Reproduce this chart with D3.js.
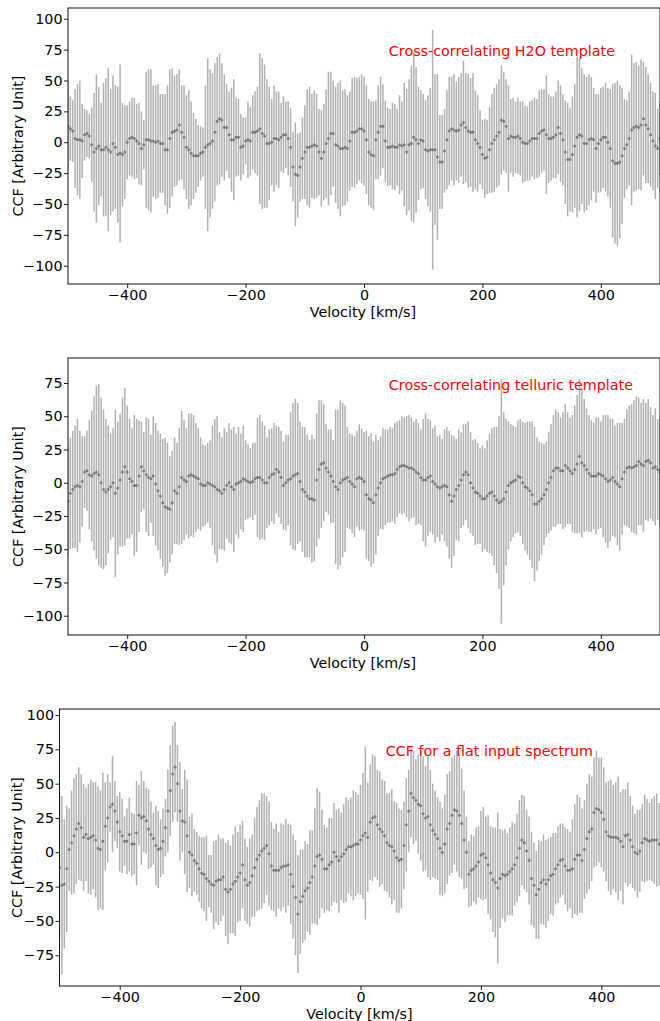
<!DOCTYPE html>
<html>
<head>
<meta charset="utf-8">
<script src="https://cdn.jsdelivr.net/npm/d3@7/dist/d3.min.js"></script>
<style>
  html, body { margin: 0; padding: 0; background: #fff; }
  svg { display: block; }
  text { font-family: "DejaVu Sans", sans-serif; }
</style>
</head>
<body>
<svg id="chart" width="660" height="1021"></svg>
<script>
// ---------------- DATA ----------------
// velocity grid (km/s): -500 .. 500, step 4
const velocityStart = -500, velocityStop = 500, velocityStep = 4;
const velocities = d3.range(velocityStart, velocityStop + 1, velocityStep);

const xTicks = [-400, -200, 0, 200, 400];

// Panel 1: Cross-correlating H2O template
const h2oCCF = [
  13, 11, 9, 3, 2, 2, 1, 6, 7, 5,
  -2, -8, -5, -3, -6, -6, -4, -6, -8, -1,
  -4, -10, -9, -10, -8, 0, 3, 4, 3, 1,
  -1, -5, -2, 2, 2, 1, 1, 0, 1, -1,
  -1, -6, -6, 3, 8, 9, 10, 14, 8, 4,
  -4, -6, -9, -11, -11, -11, -9, -8, -4, -2,
  -1, 1, 8, 17, 19, 18, 12, 12, 6, 2,
  2, 4, 4, -4, -3, 1, 2, 1, 8, 8,
  9, 11, 7, 5, -1, -1, 0, 3, 3, 2,
  4, 6, 6, 3, -4, -20, -26, -27, -20, -13,
  -8, -4, -4, -3, -2, -3, -8, -13, -8, -1,
  3, 7, 7, -2, -3, -5, -5, -4, -5, 1,
  8, 8, 9, 11, 11, 9, 2, -8, -10, -11,
  2, 8, 13, 13, 1, -4, -4, -3, -4, -4,
  -2, -3, -2, -8, -2, -1, 4, 2, -1, 2,
  1, -6, -7, -6, -6, -6, -12, -16, -16, -7,
  2, 9, 11, 10, 9, 10, 14, 16, 12, 9,
  8, 8, 2, -1, -4, -10, -13, -12, -6, -1,
  2, 5, 8, 18, 17, 13, 3, 5, 4, 4,
  5, 3, 0, -1, -1, 1, 3, 3, 3, 7,
  9, 10, 6, 3, 3, 4, 6, 12, 7, 2,
  -8, -14, -14, -10, -3, 4, 6, 5, -1, -1,
  2, 3, 2, -5, -1, 2, 4, 4, 0, -5,
  -15, -17, -17, -16, -11, -5, -2, 3, 10, 12,
  13, 12, 14, 19, 14, 11, 6, 1, -3, -5,
  3
];
const h2oErr = [
  36, 26, 25, 40, 45, 48, 30, 21, 19, 18,
  30, 48, 60, 48, 38, 54, 56, 66, 51, 55,
  50, 55, 72, 42, 38, 30, 30, 32, 33, 30,
  33, 30, 20, 55, 57, 58, 45, 46, 46, 40,
  40, 45, 52, 56, 52, 45, 45, 45, 38, 42,
  42, 48, 42, 35, 30, 25, 22, 20, 50, 70,
  60, 55, 56, 52, 53, 46, 43, 35, 35, 42,
  49, 32, 31, 27, 23, 19, 31, 28, 30, 33,
  36, 61, 61, 58, 52, 46, 35, 43, 38, 39,
  28, 31, 27, 30, 32, 28, 42, 34, 28, 33,
  38, 47, 49, 42, 44, 42, 35, 39, 39, 44,
  54, 50, 43, 47, 51, 55, 47, 47, 43, 40,
  44, 45, 43, 42, 44, 44, 44, 43, 43, 44,
  32, 38, 40, 34, 33, 32, 31, 35, 35, 31,
  40, 36, 50, 51, 53, 63, 69, 59, 46, 40,
  38, 40, 45, 50, 97, 61, 67, 38, 38, 34,
  40, 44, 42, 45, 40, 43, 42, 50, 44, 46,
  44, 48, 40, 39, 30, 28, 32, 30, 35, 40,
  42, 42, 43, 44, 40, 38, 43, 30, 32, 29,
  31, 30, 33, 31, 30, 32, 31, 33, 32, 35,
  34, 33, 48, 36, 34, 33, 35, 38, 39, 37,
  42, 46, 42, 47, 50, 65, 62, 55, 56, 54,
  53, 50, 42, 44, 40, 42, 41, 44, 44, 48,
  62, 65, 67, 62, 55, 40, 36, 38, 61, 52,
  52, 50, 53, 46, 47, 44, 42, 40, 43, 32,
  30
];

// Panel 2: Cross-correlating telluric template
const telluricCCF = [
  -14, -8, -5, -3, -2, -3, 1, 8, 9, 6,
  5, 7, 8, 6, 0, -5, -7, -5, -3, 0,
  -8, -4, 2, 8, 12, 8, 3, 1, -2, -2,
  5, 12, 9, 6, 4, 3, 5, -1, -6, -10,
  -15, -18, -19, -20, -15, -6, -8, -3, 4, 2,
  1, 5, 6, 5, 4, 3, -1, -2, -2, 0,
  -1, -2, -3, -5, -6, -8, -5, -2, 0, -3,
  -5, -1, 0, 1, 3, 2, 1, 0, 1, 3,
  4, 4, 2, 0, 0, 4, 6, 7, 10, 8,
  4, -2, 0, 2, 3, 5, 6, 7, 1, -5,
  -7, -10, -12, -12, -13, 2, 10, 14, 15, 11,
  8, 5, 1, -3, -5, 0, 2, 3, 4, 1,
  -1, -3, 3, 4, 3, 1, -9, -12, -13, -15,
  -9, -4, 0, 3, 4, 5, 6, 6, 7, 10,
  12, 13, 13, 12, 11, 11, 10, 8, 7, 4,
  2, 2, 4, 5, 1, -1, -3, -4, -3, -2,
  -3, -9, -14, -10, -5, -2, 2, 6, 8, 6,
  0, -4, -7, -8, -10, -12, -12, -10, -8, -7,
  -10, -13, -15, -14, -12, -7, -2, 0, 1, 2,
  5, 4, 0, -3, -4, -6, -9, -16, -16, -14,
  -12, -9, -5, 0, 4, 9, 11, 11, 9, 9,
  13, 11, 9, 7, 10, 14, 20, 15, 13, 10,
  7, 5, 5, 5, 7, 6, 5, 3, 1, 2,
  4, 1, -1, -3, 3, 8, 11, 12, 11, 12,
  13, 16, 14, 13, 16, 17, 15, 11, 12, 10,
  8
];
const telluricErr = [
  41, 42, 44, 46, 50, 42, 34, 27, 30, 41,
  49, 58, 65, 68, 64, 60, 55, 48, 40, 41,
  63, 50, 50, 56, 59, 50, 45, 40, 53, 50,
  42, 34, 29, 43, 44, 33, 45, 46, 45, 47,
  48, 52, 49, 40, 39, 40, 38, 44, 50, 45,
  40, 47, 46, 46, 41, 38, 35, 31, 30, 30,
  33, 45, 51, 55, 44, 42, 46, 40, 45, 43,
  47, 38, 42, 36, 40, 30, 28, 26, 29, 27,
  45, 47, 44, 43, 34, 36, 35, 38, 33, 34,
  35, 33, 36, 34, 50, 55, 57, 53, 45, 47,
  49, 46, 44, 48, 46, 50, 52, 48, 44, 33,
  32, 35, 31, 58, 60, 62, 58, 55, 38, 36,
  37, 38, 36, 40, 38, 37, 48, 47, 50, 46,
  45, 36, 35, 38, 36, 35, 36, 35, 38, 36,
  35, 37, 36, 38, 40, 38, 36, 40, 38, 36,
  46, 50, 44, 42, 40, 44, 38, 40, 36, 42,
  45, 48, 50, 45, 38, 42, 36, 38, 36, 40,
  38, 36, 40, 38, 36, 40, 38, 42, 45, 48,
  52, 55, 65, 92, 65, 55, 48, 44, 42, 40,
  42, 44, 46, 48, 50, 52, 55, 58, 50, 45,
  42, 38, 36, 38, 40, 42, 44, 42, 40, 44,
  46, 42, 40, 44, 48, 52, 58, 56, 50, 46,
  44, 42, 40, 44, 42, 40, 46, 48, 50, 46,
  44, 42, 46, 48, 42, 40, 44, 46, 48, 50,
  52, 48, 46, 50, 44, 46, 42, 40, 44, 38,
  40
];

// Panel 3: CCF for a flat input spectrum
const flatCCF = [
  -11, -24, -23, -12, 2, 7, 12, 17, 21, 18,
  11, 13, 10, 11, 12, 9, 3, 2, 8, 19,
  25, 33, 35, 30, 22, 15, 12, 8, 8, 13,
  6, 6, 14, 27, 25, 26, 23, 17, 13, 10,
  5, 2, 3, 8, 18, 30, 45, 57, 62, 50,
  30, 23, 22, 12, 0, -2, -6, -8, -12, -15,
  -16, -19, -21, -23, -24, -21, -20, -20, -18, -27,
  -29, -27, -23, -21, -18, -15, -9, -20, -24, -22,
  -17, -11, -5, -2, 1, 3, 5, -1, -10, -13,
  -13, -13, -11, -10, -10, -9, -16, -25, -33, -45,
  -36, -32, -28, -26, -22, -18, -10, -3, -2, -5,
  -12, -12, -9, -7, 0, -3, -6, -3, -1, 2,
  4, 4, 5, 6, 6, 9, 12, 14, 11, 22,
  25, 26, 20, 17, 15, 12, 7, 5, 4, 1,
  -4, -6, -5, 5, 20, 30, 43, 40, 38, 35,
  34, 28, 25, 26, 20, 16, 13, 10, 3, 0,
  6, 17, 21, 27, 31, 30, 27, 21, 9, 0,
  -16, -13, -12, -10, -7, -2, -1, -4, -9, -15,
  -20, -22, -26, -19, -16, -17, -16, -14, -12, -9,
  -4, 3, 9, 7, 1, -6, -19, -24, -31, -27,
  -22, -20, -23, -20, -17, -16, -12, -9, -6, -5,
  -10, -13, -13, -12, -5, -2, -2, -6, 2, 10,
  15, 17, 29, 32, 31, 29, 24, 15, 12, 11,
  11, 11, 10, 8, 4, 12, 13, 9, 4, 0,
  -1, 1, 7, 10, 9, 8, 9, 9, 9, 6,
  5
];
const flatErr = [
  52, 65, 47, 46, 30, 38, 42, 40, 41, 39,
  39, 34, 40, 42, 39, 42, 45, 43, 50, 32,
  32, 18, 35, 22, 19, 29, 27, 18, 24, 27,
  23, 22, 38, 22, 34, 26, 24, 29, 24, 19,
  29, 28, 21, 24, 21, 30, 33, 35, 33, 28,
  36, 23, 38, 41, 26, 30, 23, 23, 24, 26,
  27, 31, 19, 21, 32, 30, 33, 30, 28, 34,
  38, 32, 36, 40, 33, 35, 32, 30, 28, 32,
  30, 36, 38, 40, 42, 40, 36, 38, 32, 30,
  34, 28, 32, 30, 34, 30, 36, 38, 42, 43,
  38, 34, 36, 32, 38, 34, 42, 50, 46, 36,
  32, 30, 34, 32, 36, 34, 38, 32, 36, 38,
  34, 36, 40, 38, 36, 40, 46, 63, 40, 42,
  46, 44, 40, 42, 38, 40, 36, 38, 42, 36,
  40, 38, 36, 32, 34, 30, 32, 34, 30, 36,
  40, 42, 38, 44, 40, 34, 32, 30, 34, 32,
  36, 40, 38, 42, 40, 44, 45, 40, 36, 26,
  24, 26, 24, 28, 26, 32, 34, 30, 36, 34,
  38, 40, 55, 36, 32, 34, 30, 32, 34, 30,
  32, 35, 33, 34, 30, 32, 34, 31, 32, 36,
  30, 33, 32, 30, 28, 30, 26, 28, 27, 26,
  28, 30, 28, 36, 40, 44, 42, 38, 36, 40,
  42, 38, 40, 42, 38, 40, 38, 36, 40, 42,
  38, 40, 45, 36, 42, 34, 38, 32, 30, 28,
  32, 30, 28, 32, 30, 28, 30, 32, 34, 30,
  32
];

const panelTitles = [
  "Cross-correlating H2O template",
  "Cross-correlating telluric template",
  "CCF for a flat input spectrum"
];
const yTicks1 = [-100, -75, -50, -25, 0, 25, 50, 75, 100];
const yTicks2 = [-100, -75, -50, -25, 0, 25, 50, 75];
const yTicks3 = [-75, -50, -25, 0, 25, 50, 75, 100];
const xLabel = "Velocity [km/s]";
const yLabel = "CCF [Arbitrary Unit]";
const annotationPos = { v: 42, ccf: 70 };

// ---------------- LAYOUT ----------------
const panels = [
  { cen: h2oCCF, err: h2oErr, title: panelTitles[0], ticks: yTicks1,
    yDom: [-114.8, 108.7], left: 68, right: 660, top: 8, bottom: 284, yLabX: 23 },
  { cen: telluricCCF, err: telluricErr, title: panelTitles[1], ticks: yTicks2,
    yDom: [-114.5, 93.8], left: 68, right: 660, top: 358, bottom: 635, yLabX: 23 },
  { cen: flatCCF, err: flatErr, title: panelTitles[2], ticks: yTicks3,
    yDom: [-97.4, 104.4], left: 59.5, right: 661.5, top: 709, bottom: 986, yLabX: 22 }
];

const svg = d3.select("#chart");
svg.append("rect").attr("width", 660).attr("height", 1021).attr("fill", "#fff");
const FONT = 14.3;

panels.forEach((p, k) => {
  const x = d3.scaleLinear().domain([-500, 500]).range([p.left, p.right]);
  const y = d3.scaleLinear().domain(p.yDom).range([p.bottom, p.top]);
  const g = svg.append("g");

  const clipId = "clip" + k;
  svg.append("clipPath").attr("id", clipId)
    .append("rect").attr("x", p.left).attr("y", p.top)
    .attr("width", p.right - p.left).attr("height", p.bottom - p.top);

  const rows = velocities.map((v, i) => ({ v, c: p.cen[i], e: p.err[i] }));
  const plot = g.append("g").attr("clip-path", `url(#${clipId})`);

  plot.selectAll("line.err").data(rows).join("line")
    .attr("class", "err")
    .attr("x1", d => x(d.v)).attr("x2", d => x(d.v))
    .attr("y1", d => y(d.c - d.e)).attr("y2", d => y(d.c + d.e))
    .attr("stroke", "#808080").attr("stroke-opacity", 0.62)
    .attr("stroke-width", 1.5);

  plot.selectAll("circle.pt").data(rows).join("circle")
    .attr("class", "pt")
    .attr("cx", d => x(d.v)).attr("cy", d => y(d.c))
    .attr("r", 1.5).attr("fill", "#6a6a6a").attr("fill-opacity", 0.8);

  // annotation
  g.append("text")
    .attr("x", x(annotationPos.v)).attr("y", y(annotationPos.ccf))
    .attr("fill", "#ff0000").attr("font-size", FONT)
    .text(p.title);

  // axes
  const xAxis = d3.axisBottom(x).tickValues(xTicks).tickSize(4).tickPadding(2)
    .tickFormat(d3.format("d"));
  const ax = g.append("g").attr("transform", `translate(0,${p.bottom})`).call(xAxis);
  const yAxis = d3.axisLeft(y).tickValues(p.ticks).tickSize(4).tickPadding(1.5)
    .tickFormat(d3.format("d"));
  const ay = g.append("g").attr("transform", `translate(${p.left},0)`).call(yAxis);
  [ax, ay].forEach(a => {
    a.select(".domain").remove();
    a.selectAll("text").attr("font-size", FONT).attr("fill", "#000")
      .attr("font-family", "DejaVu Sans, sans-serif");
    a.selectAll("line").attr("stroke", "#000").attr("stroke-width", 0.9);
  });

  // frame
  g.append("rect")
    .attr("x", p.left).attr("y", p.top)
    .attr("width", p.right - p.left).attr("height", p.bottom - p.top)
    .attr("fill", "none").attr("stroke", "#111").attr("stroke-width", 1);

  // axis labels
  g.append("text")
    .attr("x", (p.left + p.right) / 2 - 1).attr("y", p.bottom + 33)
    .attr("text-anchor", "middle").attr("font-size", FONT).attr("fill", "#000")
    .text(xLabel);
  g.append("text")
    .attr("transform", `translate(${p.yLabX},${(p.top + p.bottom) / 2}) rotate(-90)`)
    .attr("text-anchor", "middle").attr("font-size", FONT).attr("fill", "#000")
    .text(yLabel);
});
</script>
</body>
</html>
